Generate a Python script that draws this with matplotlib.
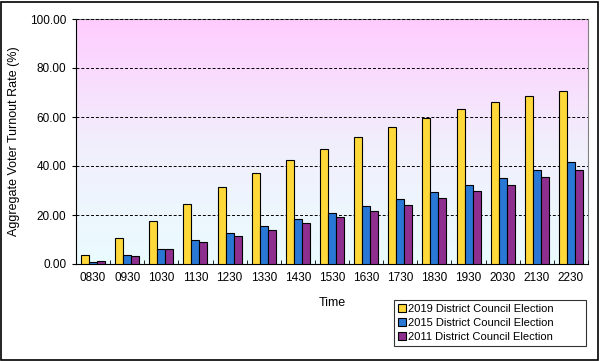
import numpy as np
import matplotlib.pyplot as plt
from matplotlib.colors import LinearSegmentedColormap
from matplotlib.patches import Rectangle

plt.rcParams['font.family'] = ['Liberation Sans', 'DejaVu Sans']
plt.rcParams['font.size'] = 8

times = ['0830', '0930', '1030', '1130', '1230', '1330', '1430', '1530',
         '1630', '1730', '1830', '1930', '2030', '2130', '2230']
dc2019 = [3.5, 10.5, 17.4, 24.4, 31.3, 37.0, 42.3, 47.0, 51.7, 55.8, 59.5, 63.1, 66.0, 68.4, 70.5]
dc2015 = [1.0, 3.5, 6.0, 9.7, 12.5, 15.4, 18.2, 20.7, 23.5, 26.4, 29.3, 32.1, 35.0, 38.2, 41.5]
dc2011 = [1.1, 3.1, 6.0, 8.9, 11.3, 13.8, 16.6, 19.1, 21.5, 24.0, 26.8, 29.7, 32.1, 35.4, 38.4]
labels = ['2019 District Council Election', '2015 District Council Election',
          '2011 District Council Election']
colors = ['#FFD83A', '#2A78D6', '#8E2E8E']

fig = plt.figure(figsize=(6.01, 3.61), dpi=100)
ax = fig.add_axes([76/601, 1-264/361, 512/601, 245/361])

# gradient background: pink at top, pale cyan at bottom
cmap = LinearSegmentedColormap.from_list('bg', ['#EAFCFF', '#F2EEFC', '#FFCCFF'])
grad = np.linspace(0, 1, 256).reshape(-1, 1)
ax.imshow(grad, cmap=cmap, aspect='auto', extent=[0, 1, 0, 1],
          origin='lower', transform=ax.transAxes, zorder=0)

x = np.arange(len(times))
w = 0.235
for i, (vals, lab, c) in enumerate(zip([dc2019, dc2015, dc2011], labels, colors)):
    ax.bar(x + (i - 1) * w, vals, width=w, color=c, edgecolor='black',
           linewidth=0.8, label=lab, zorder=3)

ax.set_xlim(-0.5, len(times) - 0.5)
ax.set_ylim(0, 100)
ax.set_yticks(np.arange(0, 101, 20))
ax.set_yticklabels([f'{v:.2f}' for v in np.arange(0, 101, 20)])
ax.set_xticks(x)
ax.set_xticklabels(times, fontsize=8.5)
ax.set_xticks(np.arange(-0.5, len(times), 1), minor=True)
ax.tick_params(axis='x', which='major', length=0, pad=6)
ax.tick_params(axis='x', which='minor', length=3, direction='in')
ax.tick_params(axis='y', length=3, direction='out', pad=4, labelsize=8.5)
ax.yaxis.grid(True, linestyle=(0, (3, 2)), color='black', linewidth=0.7, zorder=1)
ax.set_axisbelow(False)
for sp in ['top', 'right']:
    ax.spines[sp].set_color('#808080')
for sp in ['left', 'bottom']:
    ax.spines[sp].set_color('black')

ax.set_ylabel('Aggregate Voter Turnout Rate (%)', fontsize=9, labelpad=7)
ax.set_xlabel('Time', fontsize=9, labelpad=9)

leg = fig.legend(loc='upper left', bbox_to_anchor=(394/601, 1-347/361, 192/601, 47/361),
                 mode='expand', frameon=True, fancybox=False, edgecolor='black',
                 handlelength=0.7, handleheight=0.7, handletextpad=0.2,
                 borderpad=0.35, labelspacing=0.35, fontsize=8, borderaxespad=0)
leg.get_frame().set_linewidth(0.8)

fig.patches.append(Rectangle((1/601, 1/361), 597/601, 358/361, transform=fig.transFigure,
                             fill=False, edgecolor='black', linewidth=1.2))

plt.savefig('out.png', dpi=100)
